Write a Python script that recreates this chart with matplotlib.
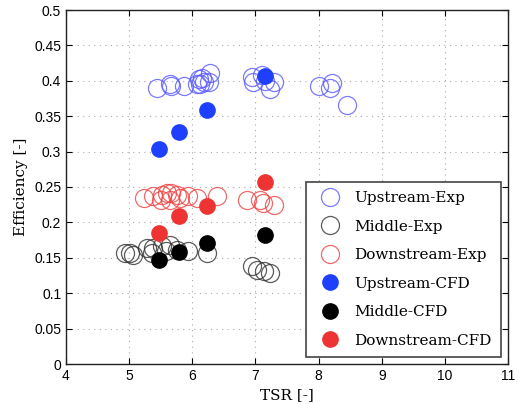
import matplotlib
matplotlib.use("Agg")
from matplotlib import pyplot as plt

# experimental data
up_exp_tsr = [5.44, 5.65, 5.67, 5.87, 6.07, 6.10, 6.12, 6.15, 6.18, 6.26, 6.28,
              6.94, 6.96, 7.10, 7.15, 7.23, 7.29, 8.00, 8.18, 8.21, 8.45]
up_exp_eff = [0.390, 0.395, 0.393, 0.392, 0.395, 0.402, 0.395, 0.404, 0.399, 0.399, 0.411,
              0.406, 0.399, 0.408, 0.400, 0.388, 0.399, 0.393, 0.390, 0.397, 0.366]

mid_exp_tsr = [4.94, 5.01, 5.06, 5.28, 5.36, 5.38, 5.52, 5.58, 5.65, 5.75, 5.94, 6.23,
               6.94, 7.02, 7.13, 7.23]
mid_exp_eff = [0.157, 0.157, 0.154, 0.164, 0.157, 0.164, 0.166, 0.160, 0.168, 0.161, 0.159, 0.157,
               0.138, 0.133, 0.131, 0.128]

down_exp_tsr = [5.23, 5.38, 5.50, 5.52, 5.60, 5.65, 5.67, 5.75, 5.80, 5.94, 6.07, 6.39,
                6.86, 7.07, 7.12, 7.29]
down_exp_eff = [0.234, 0.237, 0.232, 0.239, 0.241, 0.232, 0.241, 0.239, 0.234, 0.237, 0.234, 0.237,
                0.232, 0.232, 0.227, 0.225]

# CFD results
cfd_tsr = [5.47, 5.79, 6.24, 7.15]
up_cfd_eff = [0.303, 0.328, 0.359, 0.407]
mid_cfd_eff = [0.147, 0.158, 0.171, 0.182]
down_cfd_eff = [0.185, 0.209, 0.223, 0.257]

SERIF = "DejaVu Serif"

fig = plt.figure(figsize=(5.19, 4.04), dpi=100)
ax = fig.add_axes([66 / 519, 1 - 364 / 404, 442 / 519, 354 / 404])

ms_open = 13
ms_fill = 11
ax.plot(up_exp_tsr, up_exp_eff, "o", ms=ms_open, mfc="none", mec="#5a5aff", mew=0.9,
        alpha=0.8, label="Upstream-Exp")
ax.plot(mid_exp_tsr, mid_exp_eff, "o", ms=ms_open, mfc="none", mec="#333333", mew=0.9,
        alpha=0.8, label="Middle-Exp")
ax.plot(down_exp_tsr, down_exp_eff, "o", ms=ms_open, mfc="none", mec="#ee4444", mew=0.9,
        alpha=0.8, label="Downstream-Exp")
ax.plot(cfd_tsr, up_cfd_eff, "o", ms=ms_fill, color="#1f3fff", label="Upstream-CFD")
ax.plot(cfd_tsr, mid_cfd_eff, "o", ms=ms_fill, color="black", label="Middle-CFD")
ax.plot(cfd_tsr, down_cfd_eff, "o", ms=ms_fill, color="#ee3333", label="Downstream-CFD")

ax.set_xlim(4, 11)
ax.set_ylim(0, 0.5)
ax.set_xticks(range(4, 12))
ax.set_yticks([0, 0.05, 0.1, 0.15, 0.2, 0.25, 0.3, 0.35, 0.4, 0.45, 0.5])
ax.set_yticklabels(["0", "0.05", "0.1", "0.15", "0.2", "0.25", "0.3", "0.35", "0.4", "0.45", "0.5"])
ax.tick_params(direction="in", labelsize=10, length=4, top=True, right=True)
for lab in ax.get_xticklabels() + ax.get_yticklabels():
    lab.set_family("Liberation Sans")
ax.grid(True, linestyle=(0, (1, 4)), color="#aaaaaa", linewidth=0.8)
for s in ax.spines.values():
    s.set_linewidth(1.0)
    s.set_color("#222222")

ax.set_xlabel("TSR [-]", family=SERIF, fontsize=11)
ax.set_ylabel("Efficiency [-]", family=SERIF, fontsize=11)

leg = ax.legend(loc="lower right", bbox_to_anchor=(1.0 - 7 / 442, 7 / 354),
                prop={"family": SERIF, "size": 11}, fancybox=False, framealpha=1,
                edgecolor="#444444", borderpad=0.6, labelspacing=0.95,
                handletextpad=0.6, borderaxespad=0, numpoints=1)
leg.get_frame().set_linewidth(1.2)

fig.savefig("out.png", dpi=100)
